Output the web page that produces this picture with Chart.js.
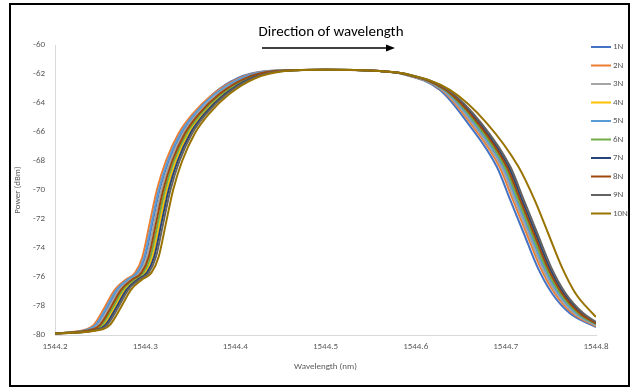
<!DOCTYPE html>
<html>
<head>
<meta charset="utf-8">
<script src="https://cdn.jsdelivr.net/npm/chart.js@4/dist/chart.umd.min.js"></script>
<style>
  html, body { margin: 0; padding: 0; background: #fff; }
  #wrap { position: relative; width: 632px; height: 389px; }
  #frame { position: absolute; left: 9px; top: 3px; width: 617px; height: 380px; border: 2px solid #000; pointer-events: none; }
</style>
</head>
<body>
<div id="wrap">
  <canvas id="chart" width="632" height="389"></canvas>
  <div id="frame"></div>
</div>
<script>
// series names and colours
const seriesNames = ['1N', '2N', '3N', '4N', '5N', '6N', '7N', '8N', '9N', '10N'];
const seriesColors = ['#4472C4', '#ED7D31', '#A5A5A5', '#FFC000', '#5B9BD5', '#70AD47', '#264478', '#9E480E', '#636363', '#997300'];

// power (dBm) at each traced point along the filter curve (same shape for all loads)
const powerProfile = [-79.9, -79.6, -79.3, -78.1, -76.9, -76.2, -75.7, -74.6, -72.3, -70.0, -68.0, -66.1, -64.8,
  -63.4, -62.3, -61.8, -61.7, -61.8, -62.0, -63.1, -65.4, -68.4, -70.7, -73.0, -75.3, -77.1, -78.5];

// wavelength (nm) of each traced point, per series
const wl1N = [1544.200, 1544.238, 1544.246, 1544.258, 1544.269, 1544.281, 1544.292, 1544.300, 1544.308, 1544.316, 1544.326, 1544.340, 1544.355,
  1544.375, 1544.402, 1544.435, 1544.500, 1544.560, 1544.585, 1544.627, 1544.658, 1544.690, 1544.705, 1544.720, 1544.735, 1544.751, 1544.771];
const wl2N = [1544.200, 1544.235, 1544.243, 1544.255, 1544.266, 1544.278, 1544.289, 1544.297, 1544.305, 1544.313, 1544.323, 1544.337, 1544.352,
  1544.375, 1544.404, 1544.437, 1544.500, 1544.560, 1544.586, 1544.629, 1544.661, 1544.693, 1544.708, 1544.723, 1544.738, 1544.754, 1544.774];
const wl3N = [1544.200, 1544.240, 1544.248, 1544.260, 1544.271, 1544.283, 1544.294, 1544.302, 1544.310, 1544.318, 1544.328, 1544.342, 1544.357,
  1544.380, 1544.409, 1544.442, 1544.500, 1544.560, 1544.5865, 1544.630, 1544.663, 1544.695, 1544.710, 1544.725, 1544.740, 1544.756, 1544.776];
const wl4N = [1544.200, 1544.246, 1544.254, 1544.266, 1544.277, 1544.289, 1544.300, 1544.308, 1544.316, 1544.324, 1544.334, 1544.348, 1544.363,
  1544.386, 1544.415, 1544.448, 1544.500, 1544.560, 1544.5875, 1544.632, 1544.666, 1544.698, 1544.713, 1544.728, 1544.743, 1544.759, 1544.779];
const wl5N = [1544.200, 1544.237, 1544.245, 1544.257, 1544.268, 1544.280, 1544.291, 1544.299, 1544.307, 1544.315, 1544.325, 1544.339, 1544.354,
  1544.377, 1544.406, 1544.439, 1544.500, 1544.560, 1544.587, 1544.631, 1544.665, 1544.697, 1544.712, 1544.727, 1544.742, 1544.758, 1544.778];
const wl6N = [1544.200, 1544.244, 1544.252, 1544.264, 1544.275, 1544.287, 1544.298, 1544.306, 1544.314, 1544.322, 1544.332, 1544.346, 1544.361,
  1544.384, 1544.413, 1544.446, 1544.500, 1544.560, 1544.5875, 1544.6325, 1544.667, 1544.699, 1544.714, 1544.729, 1544.744, 1544.760, 1544.780];
const wl7N = [1544.200, 1544.248, 1544.256, 1544.268, 1544.279, 1544.291, 1544.302, 1544.310, 1544.318, 1544.326, 1544.336, 1544.350, 1544.365,
  1544.388, 1544.417, 1544.450, 1544.500, 1544.560, 1544.589, 1544.635, 1544.671, 1544.703, 1544.718, 1544.733, 1544.748, 1544.764, 1544.784];
const wl8N = [1544.200, 1544.242, 1544.250, 1544.262, 1544.273, 1544.285, 1544.296, 1544.304, 1544.312, 1544.320, 1544.330, 1544.344, 1544.359,
  1544.382, 1544.411, 1544.444, 1544.500, 1544.560, 1544.588, 1544.6335, 1544.669, 1544.701, 1544.716, 1544.731, 1544.746, 1544.762, 1544.782];
const wl9N = [1544.200, 1544.250, 1544.258, 1544.270, 1544.281, 1544.293, 1544.304, 1544.312, 1544.320, 1544.328, 1544.338, 1544.352, 1544.367,
  1544.390, 1544.419, 1544.452, 1544.500, 1544.560, 1544.5895, 1544.636, 1544.673, 1544.705, 1544.720, 1544.735, 1544.750, 1544.766, 1544.786];
const wl10N = [1544.200, 1544.253, 1544.261, 1544.273, 1544.284, 1544.296, 1544.307, 1544.315, 1544.323, 1544.331, 1544.341, 1544.355, 1544.370,
  1544.393, 1544.422, 1544.455, 1544.500, 1544.560, 1544.590, 1544.638, 1544.679, 1544.714, 1544.732, 1544.747, 1544.762, 1544.777, 1544.796];
const seriesWavelengths = [wl1N, wl2N, wl3N, wl4N, wl5N, wl6N, wl7N, wl8N, wl9N, wl10N];

// power at the right end of the axis (1544.8 nm)
const endWavelength = 1544.8;
const endPower = [-79.45, -79.4, -79.35, -79.3, -79.3, -79.25, -79.2, -79.2, -79.1, -78.75];

// axis ranges
const xMin = 1544.2, xMax = 1544.8, xStep = 0.1;
const yMin = -80, yMax = -60, yStep = 2;

const FONT = 'Calibri, Carlito, Lato, sans-serif';
const TEXT = '#595959';

const datasets = seriesNames.map((name, i) => {
  const pts = seriesWavelengths[i].map((x, k) => ({ x: x, y: powerProfile[k] }));
  pts.push({ x: endWavelength, y: endPower[i] });
  return {
    label: name,
    data: pts,
    borderColor: seriesColors[i],
    backgroundColor: seriesColors[i],
    borderWidth: 2,
    pointRadius: 0,
    cubicInterpolationMode: 'monotone',
    fill: false,
    order: seriesNames.length - i
  };
});

// title, arrow and the legend drawn over the plot like in the excel chart
const overlay = {
  id: 'overlay',
  afterDraw(chart) {
    const ctx = chart.ctx;
    ctx.save();
    ctx.fillStyle = '#000';
    ctx.font = '15px ' + FONT;
    ctx.textAlign = 'center';
    ctx.textBaseline = 'middle';
    ctx.fillText('Direction of wavelength', 331, 32);

    ctx.strokeStyle = '#000';
    ctx.lineWidth = 1.5;
    ctx.beginPath();
    ctx.moveTo(262, 48);
    ctx.lineTo(387, 48);
    ctx.stroke();
    ctx.beginPath();
    ctx.moveTo(395, 48);
    ctx.lineTo(386, 44.5);
    ctx.lineTo(386, 51.5);
    ctx.closePath();
    ctx.fill();

    ctx.font = '9px ' + FONT;
    ctx.textAlign = 'left';
    chart.data.datasets.forEach((ds, i) => {
      const y = 47 + i * 18.5;
      ctx.strokeStyle = ds.borderColor;
      ctx.lineWidth = 2;
      ctx.beginPath();
      ctx.moveTo(591, y);
      ctx.lineTo(611, y);
      ctx.stroke();
      ctx.fillStyle = TEXT;
      ctx.fillText(ds.label, 613, y);
    });
    ctx.restore();
  }
};

new Chart(document.getElementById('chart'), {
  type: 'line',
  data: { datasets: datasets },
  plugins: [overlay],
  options: {
    responsive: false,
    animation: false,
    layout: { padding: { left: 12, right: 36, top: 45, bottom: 0 } },
    plugins: {
      legend: { display: false },
      tooltip: { enabled: false }
    },
    scales: {
      x: {
        type: 'linear',
        min: xMin,
        max: xMax,
        grid: { display: true, drawOnChartArea: false, drawTicks: false },
        border: { display: true, color: '#d9d9d9', width: 1 },
        ticks: {
          stepSize: xStep,
          padding: 6,
          color: TEXT,
          font: { family: FONT, size: 9 },
          maxRotation: 0,
          callback: v => v.toFixed(1)
        },
        title: { display: true, text: 'Wavelength (nm)', color: TEXT, font: { family: FONT, size: 9 }, padding: { top: 0, bottom: 17 } },
        afterFit: scale => { scale.height = 54; }
      },
      y: {
        min: yMin,
        max: yMax,
        grid: { display: true, drawOnChartArea: false, drawTicks: false },
        border: { display: true, color: '#d9d9d9', width: 1 },
        ticks: {
          stepSize: yStep,
          padding: 10,
          color: TEXT,
          font: { family: FONT, size: 9 }
        },
        title: { display: true, text: 'Power (dBm)', color: TEXT, font: { family: FONT, size: 9 }, padding: 0 },
        afterFit: scale => { scale.width = 43; }
      }
    }
  }
});
</script>
</body>
</html>
